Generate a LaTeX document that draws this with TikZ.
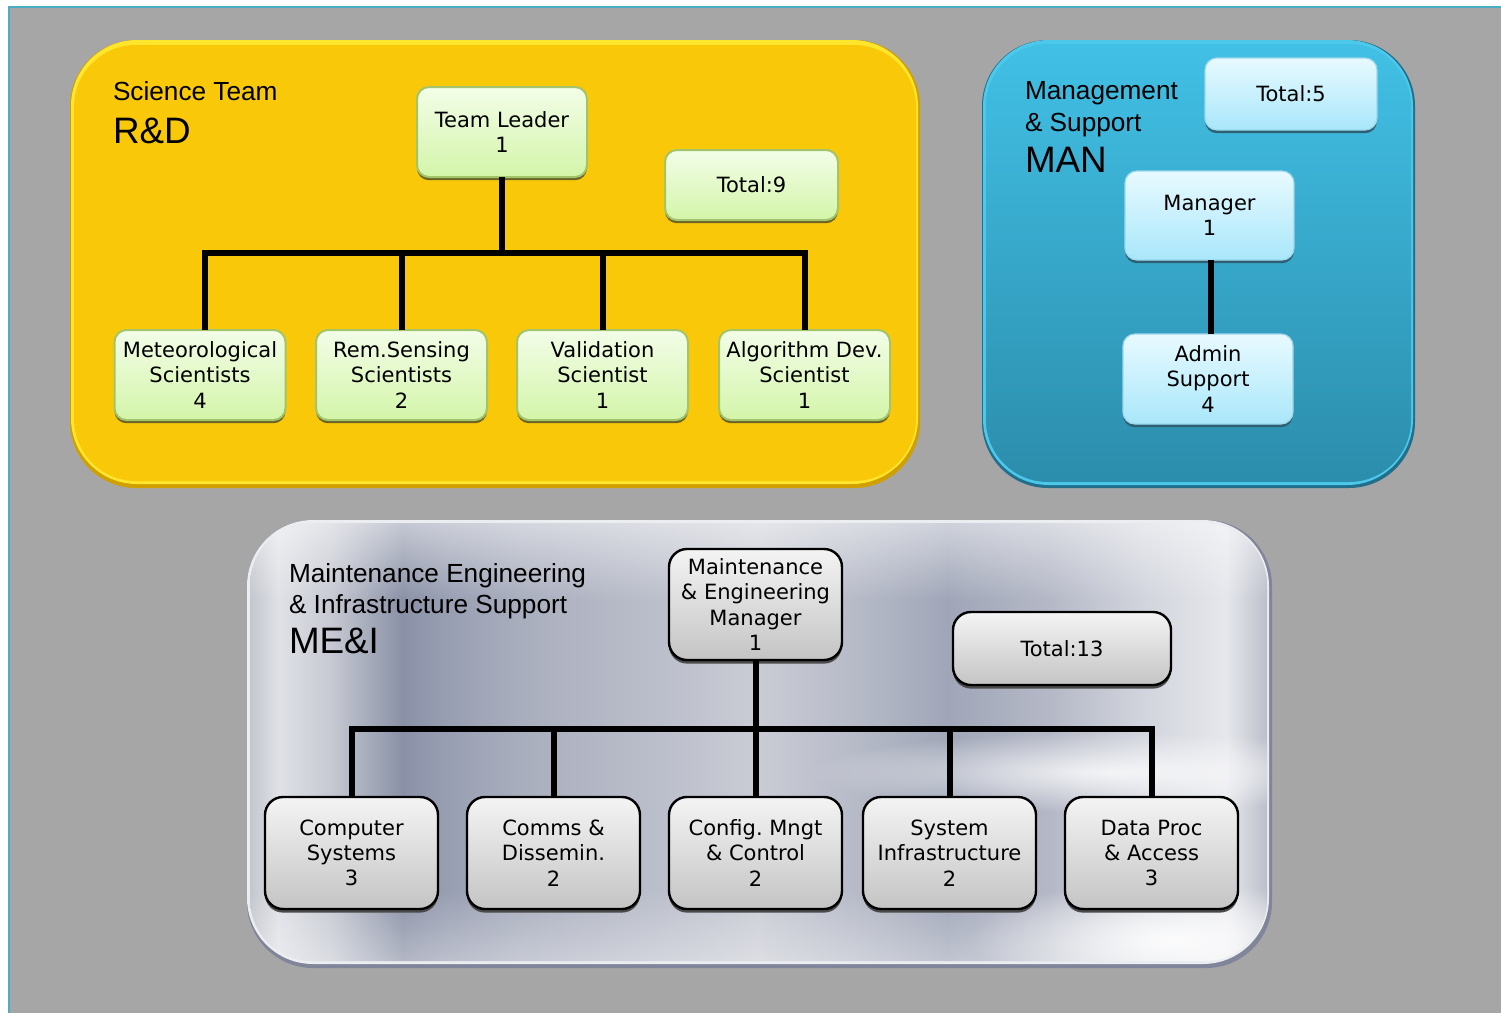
\documentclass[tikz,border=0pt]{standalone}
\usepackage{fontspec}
\setmainfont{Liberation Sans}
\newfontfamily\boxfont{DejaVu Sans}
\usetikzlibrary{fadings}
\frenchspacing

% page and panel colours
\definecolor{bggray}{HTML}{A6A6A6}
\definecolor{frameline}{HTML}{4BACC6}
\definecolor{yedge}{HTML}{CFA000}
\definecolor{yhi}{HTML}{FFE52C}
\definecolor{ymain}{HTML}{F9C909}
\definecolor{bedge}{HTML}{226F8B}
\definecolor{bhi}{HTML}{4CC8EA}
\definecolor{btop}{HTML}{41C0E5}
\definecolor{bbot}{HTML}{2C8DAC}
\definecolor{sedge}{HTML}{80859A}
\definecolor{shi}{HTML}{ECEDF0}
% box colours
\definecolor{gtop}{HTML}{F3FDE8}
\definecolor{gbot}{HTML}{D3F5A9}
\definecolor{gborder}{HTML}{A3C46A}
\definecolor{gshadow}{HTML}{6B6228}
\definecolor{ltop}{HTML}{E8FAFF}
\definecolor{lbot}{HTML}{A9E7FA}
\definecolor{lborder}{HTML}{9CD8EC}
\definecolor{lshadow}{HTML}{2E5F72}
\definecolor{ktop}{HTML}{F4F4F4}
\definecolor{kbot}{HTML}{C4C4C4}
\definecolor{kshadow}{HTML}{4A4A4A}
% metallic stops
\definecolor{s0}{HTML}{C4C6CE}
\definecolor{s1}{HTML}{DFE1E6}
\definecolor{s2}{HTML}{C6C9D2}
\definecolor{s3}{HTML}{8A91A6}
\definecolor{s4}{HTML}{979DB1}
\definecolor{s5}{HTML}{A9AEBE}
\definecolor{s6}{HTML}{BABECA}
\definecolor{s7}{HTML}{CACCD5}
\definecolor{s8}{HTML}{B6BAC7}
\definecolor{s9}{HTML}{A0A6B8}
\definecolor{s10}{HTML}{B4B8C6}
\definecolor{s11}{HTML}{D2D5DD}
\definecolor{s12}{HTML}{E6E7EC}
\definecolor{s13}{HTML}{BCBFCA}

\pgfdeclarehorizontalshading{metal}{100bp}{
  color(0bp)=(s0); color(25bp)=(s0); color(26.4bp)=(s1); color(29bp)=(s2);
  color(32.5bp)=(s3); color(34.4bp)=(s4); color(38.3bp)=(s5); color(44.7bp)=(s6);
  color(50bp)=(s7); color(54.9bp)=(s8); color(59.3bp)=(s9); color(64.2bp)=(s10);
  color(69bp)=(s11); color(73bp)=(s12); color(75bp)=(s13); color(100bp)=(s13)}

\tikzfading[name=fadedown, top color=transparent!0, bottom color=transparent!100]
\tikzfading[name=fadeup, top color=transparent!100, bottom color=transparent!0]
\tikzfading[name=softglow, inner color=transparent!0, outer color=transparent!100]

\tikzset{
  every node/.style={inner sep=0pt, outer sep=0pt},
  boxtext/.style={align=center, font=\boxfont\fontsize{10.5}{12.6}\selectfont},
  gbox/.style={boxtext, rounded corners=6pt, draw=gborder, line width=1pt,
    top color=gtop, bottom color=gbot,
    preaction={fill=gshadow, transform canvas={yshift=-1.6pt}}},
  lbox/.style={boxtext, rounded corners=6pt, draw=lborder, line width=0.6pt,
    top color=ltop, bottom color=lbot,
    preaction={fill=lshadow, transform canvas={yshift=-1.6pt}}},
  kbox/.style={boxtext, rounded corners=9pt, draw=black, line width=1.2pt,
    top color=ktop, bottom color=kbot,
    preaction={fill=kshadow, transform canvas={yshift=-1.8pt}}},
  conn/.style={draw=black, line width=3pt},
  title/.style={anchor=base west, font=\fontsize{13.1}{15}\selectfont},
  bigtitle/.style={anchor=base west, font=\fontsize{18.4}{21}\selectfont},
  panel/.style={rounded corners=33pt},
  glow/.style={white, path fading=softglow}
}

\begin{document}
\begin{tikzpicture}[x=0.5pt, y=-0.5pt]
\useasboundingbox (0,0) rectangle (1501,1013);

% page
\fill[white] (0,0) rectangle (1501,1013);
\fill[bggray] (9,7) rectangle (1501,1013);
\draw[frameline, line width=0.8pt] (9,1013) -- (9,7) -- (1501,7);

% R&D panel
\fill[yedge, panel] (70,40) rectangle (920,488);
\fill[yhi, panel] (71,40) rectangle (918,484);
\fill[ymain, rounded corners=31pt] (74,45) rectangle (916,481);

% MAN panel
\fill[bedge, panel] (982,40) rectangle (1415,488);
\fill[bhi, panel] (983,40) rectangle (1413,485);
\shade[top color=btop, bottom color=bbot, rounded corners=31pt] (986,44) rectangle (1411,482);

% ME&I panel: brushed metal
\fill[sedge, panel] (247,520) rectangle (1272,968);
\fill[shi, panel] (247,520) rectangle (1269,964);
\begin{scope}
  \clip[rounded corners=31pt] (250,523) rectangle (1267,961);
  \shade[shading=metal] (250,523) rectangle (1267,961);
  \fill[white, path fading=fadedown, fill opacity=0.5] (250,523) rectangle (1267,600);
  \fill[white, path fading=fadeup, fill opacity=0.35] (250,890) rectangle (1267,961);
  \fill[glow, fill opacity=0.8] (1110,772) ellipse (300 and 40);
  \fill[glow, fill opacity=0.9] (1170,940) ellipse (200 and 60);
\end{scope}

% R&D titles
\node[title] (sciname) at (113,100) {Science Team};
\node[bigtitle] (scicode) at (113,143) {R\&D};

% R&D boxes
\node[gbox, minimum width=85pt, minimum height=45pt] (lead) at (502,132) {Team Leader\\1};
\node[gbox, minimum width=86.5pt, minimum height=35pt] (tot9) at (751.5,185) {Total:9};
\node[gbox, minimum width=85.5pt, minimum height=45pt] (met) at (200,375) {Meteorological\\Scientists\\4};
\node[gbox, minimum width=85.5pt, minimum height=45pt] (rem) at (401.5,375) {Rem.Sensing\\Scientists\\2};
\node[gbox, minimum width=85.5pt, minimum height=45pt] (val) at (602.5,375) {Validation\\Scientist\\1};
\node[gbox, minimum width=85.5pt, minimum height=45pt] (alg) at (804.5,375) {Algorithm Dev.\\Scientist\\1};

% R&D tree
\coordinate (sbus) at (502,253);
\coordinate (mettop) at ([xshift=2.5pt]met.north);
\draw[conn] (mettop) -- (mettop |- sbus) -- (alg.north |- sbus) -- (alg.north);
\draw[conn] (lead.south) -- (lead.south |- sbus);
\draw[conn] (rem.north) -- (rem.north |- sbus);
\draw[conn] (val.north) -- (val.north |- sbus);

% MAN titles
\node[title] (manname1) at (1025,99) {Management};
\node[title] (manname2) at (1025,131) {\& Support};
\node[bigtitle] (mancode) at (1025,172) {MAN};

% MAN boxes
\node[lbox, minimum width=86pt, minimum height=36pt] (tot5) at (1291,94) {Total:5};
\node[lbox, minimum width=84.5pt, minimum height=44.5pt] (mgr) at (1209.5,215.5) {Manager\\1};
\node[lbox, minimum width=85pt, minimum height=45pt] (adm) at (1208,379) {Admin\\Support\\4};
\coordinate (mgrbot) at ([xshift=0.5pt]mgr.south);
\draw[conn] (mgrbot) -- (mgrbot |- adm.north);

% ME&I titles
\node[title] (mein1) at (289,582) {Maintenance Engineering};
\node[title] (mein2) at (289,613) {\& Infrastructure Support};
\node[bigtitle] (meicode) at (289,653) {ME\&I};

% ME&I boxes
\node[kbox, minimum width=86.5pt, minimum height=55.5pt] (memgr) at (755.5,604.5) {Maintenance\\\& Engineering\\Manager\\1};
\node[kbox, minimum width=109pt, minimum height=36.5pt] (tot13) at (1062,648.5) {Total:13};
\node[kbox, minimum width=86.5pt, minimum height=56pt] (comp) at (351.5,853) {Computer\\Systems\\3};
\node[kbox, minimum width=86.5pt, minimum height=56pt] (comms) at (553.5,853) {Comms \&\\Dissemin.\\2};
\node[kbox, minimum width=86.5pt, minimum height=56pt] (conf) at (755.5,853) {Config. Mngt\\\& Control\\2};
\node[kbox, minimum width=86.5pt, minimum height=56pt] (sysinf) at (949.5,853) {System\\Infrastructure\\2};
\node[kbox, minimum width=86.5pt, minimum height=56pt] (dproc) at (1151.5,853) {Data Proc\\\& Access\\3};

% ME&I tree
\coordinate (mbus) at (755,729);
\draw[conn] (comp.north) -- (comp.north |- mbus) -- (dproc.north |- mbus) -- (dproc.north);
\draw[conn] (memgr.south) -- (conf.north);
\draw[conn] (comms.north) -- (comms.north |- mbus);
\draw[conn] (sysinf.north) -- (sysinf.north |- mbus);
\end{tikzpicture}
\end{document}
